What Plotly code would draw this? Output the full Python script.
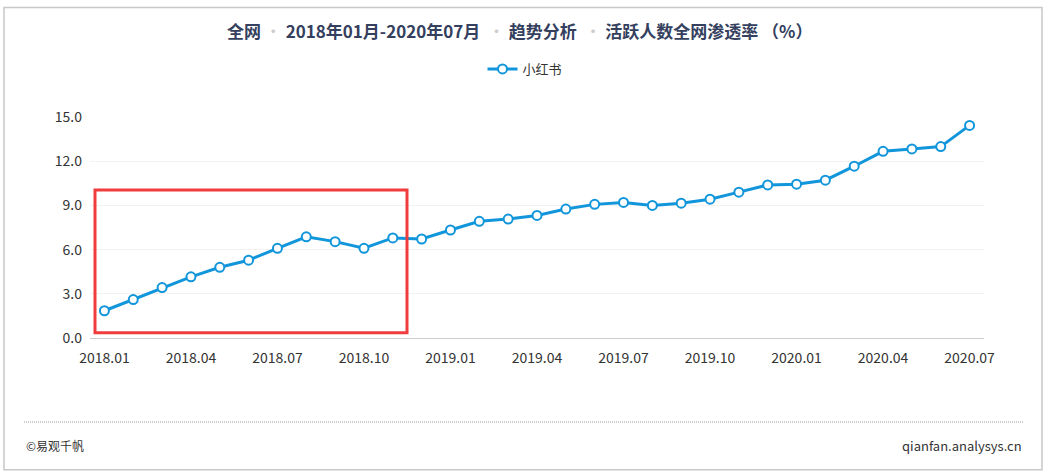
import plotly.graph_objects as go

# months 2018.01 - 2020.07
months = [
    "2018.01", "2018.02", "2018.03", "2018.04", "2018.05", "2018.06",
    "2018.07", "2018.08", "2018.09", "2018.10", "2018.11", "2018.12",
    "2019.01", "2019.02", "2019.03", "2019.04", "2019.05", "2019.06",
    "2019.07", "2019.08", "2019.09", "2019.10", "2019.11", "2019.12",
    "2020.01", "2020.02", "2020.03", "2020.04", "2020.05", "2020.06",
    "2020.07",
]
# 小红书 活跃人数全网渗透率 (%)
rate = [
    1.85, 2.61, 3.42, 4.15, 4.80, 5.28, 6.09, 6.87, 6.54, 6.09, 6.79, 6.72,
    7.33, 7.92, 8.07, 8.32, 8.75, 9.07, 9.20, 9.00, 9.15, 9.42, 9.90, 10.39,
    10.44, 10.71, 11.66, 12.67, 12.83, 12.99, 14.43,
]
label_months = months[::3]
y_ticks = [0, 3, 6, 9, 12, 15]

font_cn = "Noto Sans CJK SC, Microsoft YaHei, sans-serif"
blue = "#1296db"

fig = go.Figure()
fig.add_trace(go.Scatter(
    x=months, y=rate, name="小红书",
    mode="lines+markers",
    line=dict(color=blue, width=3),
    marker=dict(size=9, color="white", line=dict(color=blue, width=2)),
))

sep = "<span style='color:#cccccc'> • </span>"
title = (
    "<b>全网</b>" + sep + "<b>2018年01月-2020年07月</b> " + sep +
    "<b>趋势分析</b> " + sep + "<b>活跃人数全网渗透率 （%）</b>"
)

# plot area 90..984 px wide, 116.7..338.3 px tall -> paper coords for decorations
def px_x(p):
    return (p - 90) / 894.0

def px_y(p):
    return (338.3 - p) / 221.6

fig.update_layout(
    width=1050, height=476,
    margin=dict(l=90, r=66, t=117, b=138),
    paper_bgcolor="white", plot_bgcolor="white",
    font=dict(family=font_cn, size=13, color="#333333"),
    title=dict(text=title, x=0.495, xref="container", xanchor="center",
               y=1 - 32 / 476, yref="container", yanchor="middle",
               font=dict(size=17, color="#34405e")),
    showlegend=True,
    legend=dict(orientation="h", x=0.5, xanchor="center", xref="container",
                y=1 - 69 / 476, yanchor="middle", yref="container",
                font=dict(size=13, color="#333333")),
    xaxis=dict(
        type="category", categoryorder="array", categoryarray=months,
        range=[-0.5, len(months) - 0.5],
        tickmode="array", tickvals=label_months, ticktext=label_months,
        ticks="", showgrid=False, showline=True, linecolor="#cccccc",
        ticklabelstandoff=7,
        tickfont=dict(size=14, color="#333333"), fixedrange=True,
    ),
    xaxis2=dict(
        overlaying="x", anchor="y", type="linear",
        range=[-0.5, len(months) - 0.5],
        tickmode="array",
        tickvals=[i - 0.5 for i in range(0, len(months), 3)],
        showticklabels=False, ticks="outside", ticklen=5,
        tickcolor="#cccccc", showgrid=False, showline=False, zeroline=False,
    ),
    yaxis=dict(
        range=[0, 15], tickmode="array", tickvals=y_ticks,
        tickformat=".1f", showgrid=True, gridcolor="#f2f2f2",
        zeroline=False, showline=False, ticks="", ticklabelstandoff=7,
        tickfont=dict(size=14, color="#333333"),
    ),
    hovermode="x",
)

# highlighted region
fig.add_shape(type="rect", xref="paper", yref="paper",
              x0=px_x(95), x1=px_x(407), y0=px_y(333), y1=px_y(190),
              line=dict(color="#f03c3c", width=3))
# outer frame
fig.add_shape(type="rect", xref="paper", yref="paper",
              x0=px_x(4), x1=px_x(1042), y0=px_y(470.5), y1=px_y(7),
              line=dict(color="#c8c8c8", width=1.5), layer="below")
# dotted separator
fig.add_shape(type="line", xref="paper", yref="paper",
              x0=px_x(24), x1=px_x(1023), y0=px_y(422.5), y1=px_y(422.5),
              line=dict(color="#9a9a9a", width=1, dash="1px,1px"))

fig.add_annotation(text="©易观千帆", xref="paper", yref="paper",
                   x=px_x(24), y=px_y(446), xanchor="left", yanchor="middle",
                   showarrow=False, font=dict(size=12, color="#333333"))
fig.add_annotation(text="qianfan.analysys.cn", xref="paper", yref="paper",
                   x=px_x(1024), y=px_y(446), xanchor="right", yanchor="middle",
                   showarrow=False, font=dict(size=13, color="#333333"))

# page body has a default 8px margin; drop it so the figure sits at 0,0
fig.write_html("out.html", config={"displayModeBar": False},
               post_script="document.body.style.margin='0';")
